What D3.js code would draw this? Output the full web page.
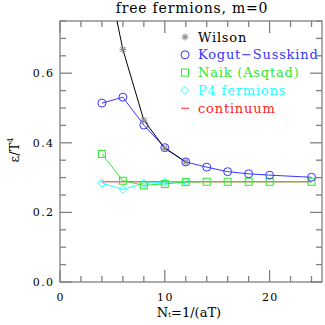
<!DOCTYPE html>
<html>
<head>
<meta charset="utf-8">
<script src="https://cdnjs.cloudflare.com/ajax/libs/d3/7.8.5/d3.min.js"></script>
<style>
body { margin: 0; background: #fff; }
text { font-family: "DejaVu Serif", serif; }
</style>
</head>
<body>
<script>
// data
const wilsonNt = [4, 6, 8, 10, 12];
const wilsonE = [0.96, 0.668, 0.465, 0.384, 0.345];
const ksNt = [4, 6, 8, 10, 12, 14, 16, 18, 20, 24];
const ksE = [0.514, 0.531, 0.451, 0.386, 0.345, 0.330, 0.317, 0.311, 0.307, 0.301];
const naikNt = [4, 6, 8, 10, 12, 14, 16, 18, 20, 24];
const naikE = [0.368, 0.291, 0.278, 0.282, 0.287, 0.288, 0.288, 0.288, 0.288, 0.288];
const p4Nt = [4, 6, 8, 10, 12];
const p4E = [0.284, 0.266, 0.284, 0.287, 0.288];
const contNt = [4, 24];
const contE = [0.2879, 0.2879];
const xTicks = [0, 10, 20];
const yTicks = [0.0, 0.2, 0.4, 0.6];
const legendNames = ["Wilson", "Kogut\u2212Susskind", "Naik (Asqtad)", "P4 fermions", "continuum"];

const W = 325, H = 325;
const margin = {top: 21, right: 3, bottom: 43, left: 60};
const width = W - margin.left - margin.right;
const height = H - margin.top - margin.bottom;

const svg = d3.select("body").append("svg")
    .attr("width", W)
    .attr("height", H);

const x = d3.scaleLinear().domain([0, 25]).range([0, width]);
const y = d3.scaleLinear().domain([0, 0.75]).range([height, 0]);

const g = svg.append("g")
    .attr("transform", "translate(" + margin.left + "," + margin.top + ")");

const axisCol = "#808080";

// frame ticks, pointing inward on all four sides
const minorX = d3.range(0, 25.01, 2).filter(v => v % 10 != 0);
const minorY = d3.range(0, 0.751, 0.05).filter(v => Math.abs(v * 5 - Math.round(v * 5)) > 1e-6);

function tickSet(vals, len) {
    vals.forEach(v => {
        g.append("line").attr("x1", x(v)).attr("x2", x(v)).attr("y1", height).attr("y2", height - len)
            .attr("stroke", axisCol).attr("stroke-width", 1.3);
        g.append("line").attr("x1", x(v)).attr("x2", x(v)).attr("y1", 0).attr("y2", len)
            .attr("stroke", axisCol).attr("stroke-width", 1.3);
    });
}
tickSet(xTicks, 12);
tickSet(minorX, 6);

function tickSetY(vals, len) {
    vals.forEach(v => {
        g.append("line").attr("x1", 0).attr("x2", len).attr("y1", y(v)).attr("y2", y(v))
            .attr("stroke", axisCol).attr("stroke-width", 1.3);
        g.append("line").attr("x1", width).attr("x2", width - len).attr("y1", y(v)).attr("y2", y(v))
            .attr("stroke", axisCol).attr("stroke-width", 1.3);
    });
}
tickSetY(yTicks, 12);
tickSetY(minorY, 6);

g.append("rect")
    .attr("width", width).attr("height", height)
    .attr("fill", "none").attr("stroke", axisCol).attr("stroke-width", 1.3);

// tick labels
g.selectAll(".xl").data(xTicks).enter().append("text")
    .attr("x", d => x(d) + 0.7).attr("y", height + 19)
    .attr("text-anchor", "middle").attr("font-size", 11)
    .attr("letter-spacing", 1.4)
    .text(d => d);
g.selectAll(".yl").data(yTicks).enter().append("text")
    .attr("x", -5.5).attr("y", d => y(d) + 4)
    .attr("text-anchor", "end").attr("font-size", 11)
    .attr("letter-spacing", 1.4)
    .text(d => d3.format(".1f")(d));

// title and axis labels
svg.append("text")
    .attr("x", 192).attr("y", 13)
    .attr("text-anchor", "middle").attr("font-size", 14)
    .attr("letter-spacing", 0.8)
    .text("free fermions, m=0");

const xl = svg.append("text")
    .attr("x", 189).attr("y", 317)
    .attr("text-anchor", "middle").attr("font-size", 13);
xl.append("tspan").text("N");
xl.append("tspan").attr("font-size", 7).text("t");
xl.append("tspan").text("=1/(aT)");

const yl = svg.append("text")
    .attr("transform", "translate(19,150) rotate(-90)")
    .attr("text-anchor", "middle").attr("font-size", 13);
yl.append("tspan").text("\u03b5/T");
yl.append("tspan").attr("font-size", 8).attr("dy", -6).text("4");

// plot area clip
svg.append("clipPath").attr("id", "clip")
    .append("rect").attr("width", width).attr("height", height);
const plot = g.append("g").attr("clip-path", "url(#clip)");

const line = d3.line().x(d => x(d[0])).y(d => y(d[1]));
const zip = (a, b) => a.map((v, i) => [v, b[i]]);

const cBlack = "#000000", cBlue = "#3535ff", cGreen = "#2ee82e", cCyan = "#22ffff", cRed = "#ff2020";

plot.append("path").datum(zip(contNt, contE)).attr("d", line)
    .attr("fill", "none").attr("stroke", cRed).attr("stroke-width", 1);
plot.append("path").datum(zip(p4Nt, p4E)).attr("d", line)
    .attr("fill", "none").attr("stroke", cCyan).attr("stroke-width", 1);
plot.append("path").datum(zip(naikNt, naikE)).attr("d", line)
    .attr("fill", "none").attr("stroke", cGreen).attr("stroke-width", 1);
plot.append("path").datum(zip(ksNt, ksE)).attr("d", line)
    .attr("fill", "none").attr("stroke", cBlue).attr("stroke-width", 1);
plot.append("path").datum(zip(wilsonNt, wilsonE)).attr("d", line)
    .attr("fill", "none").attr("stroke", cBlack).attr("stroke-width", 1);

// markers
function drawStar(sel, cx, cy) {
    const s = sel.append("g").attr("transform", "translate(" + cx + "," + cy + ")");
    [0, 45, 90, 135].forEach(a => {
        s.append("line").attr("x1", -3.5).attr("x2", 3.5).attr("y1", 0).attr("y2", 0)
            .attr("transform", "rotate(" + a + ")")
            .attr("stroke", "#888").attr("stroke-width", 1);
    });
}
function drawCircle(sel, cx, cy, col) {
    sel.append("circle").attr("cx", cx).attr("cy", cy).attr("r", 4)
        .attr("fill", "none").attr("stroke", col).attr("stroke-width", 1);
}
function drawSquare(sel, cx, cy, col) {
    sel.append("rect").attr("x", cx - 3.5).attr("y", cy - 3.5).attr("width", 7).attr("height", 7)
        .attr("fill", "none").attr("stroke", col).attr("stroke-width", 1);
}
function drawDiamond(sel, cx, cy, col) {
    sel.append("path").attr("d", "M" + cx + "," + (cy - 4) + "L" + (cx + 4) + "," + cy +
        "L" + cx + "," + (cy + 4) + "L" + (cx - 4) + "," + cy + "Z")
        .attr("fill", "none").attr("stroke", col).attr("stroke-width", 1);
}

p4Nt.forEach((v, i) => drawDiamond(plot, x(v), y(p4E[i]), cCyan));
naikNt.forEach((v, i) => drawSquare(plot, x(v), y(naikE[i]), cGreen));
ksNt.forEach((v, i) => drawCircle(plot, x(v), y(ksE[i]), cBlue));
wilsonNt.forEach((v, i) => drawStar(plot, x(v), y(wilsonE[i])));

// legend
const legCols = [cBlack, cBlue, cGreen, cCyan, cRed];
const leg = svg.append("g");
legendNames.forEach((name, i) => {
    const ly = 37 + i * 17.8;
    if (i == 0) drawStar(leg, 185, ly);
    if (i == 1) drawCircle(leg, 185, ly, cBlue);
    if (i == 2) drawSquare(leg, 185, ly, cGreen);
    if (i == 3) drawDiamond(leg, 185, ly, cCyan);
    if (i == 4) leg.append("line").attr("x1", 181).attr("x2", 189).attr("y1", ly).attr("y2", ly)
        .attr("stroke", cRed).attr("stroke-width", 1);
    leg.append("text").attr("x", 198).attr("y", ly + 4.5)
        .attr("font-size", 13).attr("fill", legCols[i])
        .attr("letter-spacing", 0.8)
        .text(name);
});
</script>
</body>
</html>
